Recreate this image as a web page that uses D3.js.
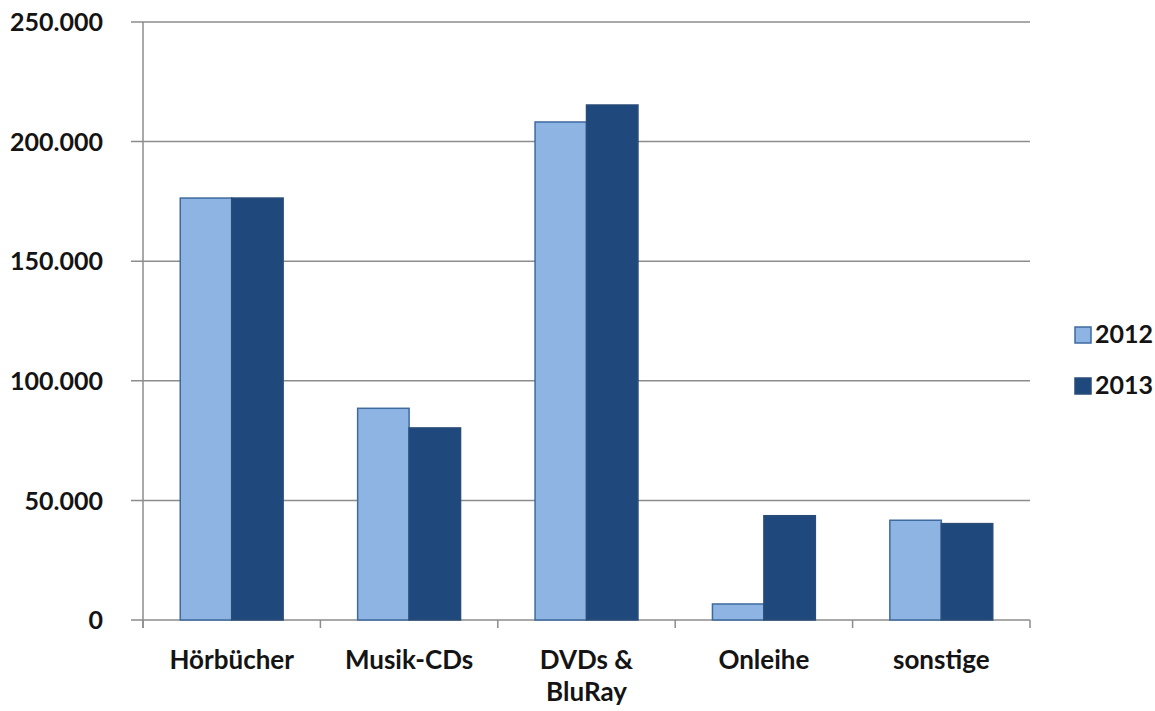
<!DOCTYPE html>
<html>
<head>
<meta charset="utf-8">
<script src="https://cdn.jsdelivr.net/npm/d3@7"></script>
<style>
  html, body { margin: 0; padding: 0; background: #fff; }
  svg text { font-family: Lato, "Open Sans", sans-serif; font-weight: bold; fill: #141414; }
</style>
</head>
<body>
<div class="chart"></div>
<script>
// data
const categories = ["Hörbücher", "Musik-CDs", "DVDs & BluRay", "Onleihe", "sonstige"];
const categoryLines = [["Hörbücher"], ["Musik-CDs"], ["DVDs &", "BluRay"], ["Onleihe"], ["sonstige"]];
const seriesNames = ["2012", "2013"];
const values2012 = [176400, 88500, 208200, 6700, 41700];
const values2013 = [176400, 80300, 215300, 43600, 40300];
const yTicks = [0, 50000, 100000, 150000, 200000, 250000];

const seriesValues = [values2012, values2013];
const fills = ["#8EB4E3", "#1F497D"];
const strokes = ["#3E6A9E", "#2A4C78"];
const gridColor = "#8C8C8C";

const width = 1155, height = 711;
const plotLeft = 143, plotRight = 1030, plotTop = 22, plotBottom = 620;

const svg = d3.select(".chart")
    .append("svg")
    .attr("width", width)
    .attr("height", height);

const de = d3.formatLocale({decimal: ",", thousands: ".", grouping: [3], currency: ["", "€"]});
const fmt = de.format(",");

const y = d3.scaleLinear()
    .domain([0, 250000])
    .range([plotBottom, plotTop]);

const x0 = d3.scaleBand()
    .domain(categories)
    .range([plotLeft, plotRight])
    .paddingInner(0.42)
    .paddingOuter(0.21);

const x1 = d3.scaleBand()
    .domain(seriesNames)
    .range([0, x0.bandwidth()]);

// horizontal gridlines
svg.append("g")
    .selectAll("line")
    .data(yTicks)
    .enter()
    .append("line")
    .attr("x1", plotLeft - 12)
    .attr("x2", plotRight)
    .attr("y1", d => y(d))
    .attr("y2", d => y(d))
    .attr("stroke", gridColor)
    .attr("stroke-width", 1.5);

// y axis labels
const yAxis = d3.axisLeft(y)
    .tickValues(yTicks)
    .tickFormat(fmt)
    .tickSize(0)
    .tickPadding(40);

const yg = svg.append("g")
    .attr("transform", `translate(${plotLeft},0)`)
    .call(yAxis);
yg.select(".domain").remove();
yg.selectAll("text")
    .attr("dy", "0.35em")
    .style("font-size", "25px");

// vertical axis line
svg.append("line")
    .attr("x1", plotLeft).attr("x2", plotLeft)
    .attr("y1", plotTop).attr("y2", plotBottom + 8)
    .attr("stroke", gridColor)
    .attr("stroke-width", 1.5);

// category boundary ticks
const step = x0.step();
const boundaries = categories.map(c => x0(c) - x0.paddingOuter() * step).concat([plotRight]);
svg.append("g")
    .selectAll("line")
    .data(boundaries)
    .enter()
    .append("line")
    .attr("x1", d => d).attr("x2", d => d)
    .attr("y1", plotBottom).attr("y2", plotBottom + 8)
    .attr("stroke", gridColor)
    .attr("stroke-width", 1.5);

// bars
const groups = svg.append("g")
    .selectAll("g")
    .data(categories)
    .enter()
    .append("g")
    .attr("transform", d => `translate(${x0(d)},0)`);

groups.selectAll("rect")
    .data((d, i) => seriesNames.map((s, j) => ({series: s, j: j, value: seriesValues[j][i]})))
    .enter()
    .append("rect")
    .attr("x", d => x1(d.series))
    .attr("y", d => y(d.value))
    .attr("width", x1.bandwidth())
    .attr("height", d => plotBottom - y(d.value))
    .attr("fill", d => fills[d.j])
    .attr("stroke", d => strokes[d.j])
    .attr("stroke-width", 1.5);

// category labels
const labels = svg.append("g")
    .selectAll("text")
    .data(categories)
    .enter()
    .append("text")
    .attr("x", d => x0(d) + x0.bandwidth() / 2)
    .attr("y", 669)
    .attr("text-anchor", "middle")
    .style("font-size", "26px");

labels.each(function (d, i) {
    d3.select(this).selectAll("tspan")
        .data(categoryLines[i])
        .enter()
        .append("tspan")
        .attr("x", x0(d) + x0.bandwidth() / 2)
        .attr("dy", (t, k) => k === 0 ? 0 : 32)
        .text(t => t);
});

// legend
const legend = svg.append("g")
    .selectAll("g")
    .data(seriesNames)
    .enter()
    .append("g")
    .attr("transform", (d, i) => `translate(1075,${327 + i * 51})`);

legend.append("rect")
    .attr("width", 16)
    .attr("height", 16)
    .attr("fill", (d, i) => fills[i])
    .attr("stroke", (d, i) => strokes[i])
    .attr("stroke-width", 1.5);

legend.append("text")
    .attr("x", 20)
    .attr("y", 16)
    .style("font-size", "25px")
    .text(d => d);
</script>
</body>
</html>
